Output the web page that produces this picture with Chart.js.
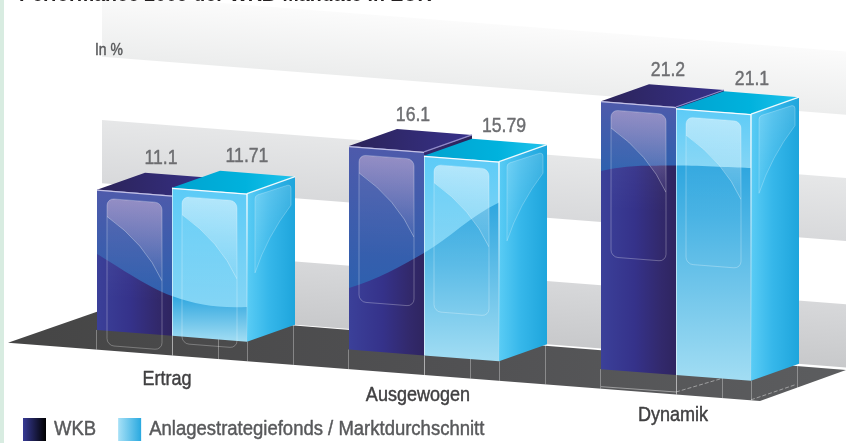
<!DOCTYPE html>
<html><head><meta charset="utf-8">
<style>
html,body{margin:0;padding:0;width:846px;height:443px;overflow:hidden;background:linear-gradient(90deg,#d8ece1 0,#d8ece1 4px,#fff 4px,#fff 100%);}
#wrap{position:relative;width:846px;height:443px;overflow:hidden;}
canvas{position:absolute;left:-3px;top:-15px;}
</style>
<script src="https://cdn.jsdelivr.net/npm/chart.js@4"></script>
</head><body><div id="wrap"><canvas id="c" width="849" height="466"></canvas></div>
<script>
const titleText = "Performance 2009 der WKB-Mandate in EUR";
const unitText = "In %";
const categories = ["Ertrag","Ausgewogen","Dynamik"];
const seriesNames = ["WKB","Anlagestrategiefonds / Marktdurchschnitt"];
const wkbValues = [11.1,16.1,21.2];
const marktValues = [11.71,15.79,21.1];

const SANS = '"Liberation Sans",sans-serif';
const SLOPE = 0.0777, DX = 48, DY = 17;
const LEG_PAD = 20;
// horizontal condensing per font size (the reference face is a condensed grotesque)
const CONDENSE = {"20px":0.925,"20.5px":0.88,"21px":0.84,"16px":0.87};

const canvasEl=document.getElementById("c");
const rawCtx=canvasEl.getContext("2d");
(function patch(ctx){
  const fill=ctx.fillText.bind(ctx),measure=ctx.measureText.bind(ctx),stroke=ctx.strokeText.bind(ctx);
  const kOf=()=>{const m=ctx.font.match(/([\d.]+px)/);return (m&&CONDENSE[m[1]])||1;};
  ctx.fillText=function(t,x,y,mw){
    const k=kOf();
    if(k===1){fill(t,x,y,mw);return;}
    ctx.save();
    const shift=seriesNames.includes(t)?-2:0;
    ctx.translate(x+shift,y);ctx.scale(k,1);
    fill(t,0,0);
    ctx.strokeStyle=ctx.fillStyle;ctx.lineWidth=0.45;ctx.lineJoin="round";
    stroke(t,0,0);
    ctx.restore();
  };
  ctx.measureText=function(t){const m=measure(t);return {width:m.width*kOf()};};
})(rawCtx);

function frame(chart){
  const a = chart.chartArea, x0 = a.left + 51, yz = chart.scales.y.getPixelForValue(0);
  return {a, x0, yz};
}
const WAVE = [[0,-76],[75,-34],[150,-23],[252,-42],[327,-77],[403,-128],[504,-159],[568,-164.5],[654,-162]];
function waveAt(f,x){
  const u = x - f.x0;
  for(let i=0;i<WAVE.length-1;i++){
    if(u<=WAVE[i+1][0]){const t=(u-WAVE[i][0])/(WAVE[i+1][0]-WAVE[i][0]);return f.yz+WAVE[i][1]+t*(WAVE[i+1][1]-WAVE[i][1]);}
  }
  return f.yz+WAVE[WAVE.length-1][1];
}
function wavePath(ctx,f){
  const P = WAVE.map(p=>[p[0]+f.x0,p[1]+f.yz]);
  ctx.beginPath();
  ctx.moveTo(P[0][0],P[0][1]);
  for(let i=0;i<P.length-1;i++){
    const p0=P[Math.max(0,i-1)],p1=P[i],p2=P[i+1],p3=P[Math.min(P.length-1,i+2)];
    ctx.bezierCurveTo(p1[0]+(p2[0]-p0[0])/6,p1[1]+(p2[1]-p0[1])/6,p2[0]-(p3[0]-p1[0])/6,p2[1]-(p3[1]-p1[1])/6,p2[0],p2[1]);
  }
}
function rr(ctx,x,y,w,h,r){ctx.beginPath();ctx.roundRect(x,y,w,h,r);}
function poly(ctx,pts){ctx.beginPath();pts.forEach((p,i)=>i?ctx.lineTo(p[0],p[1]):ctx.moveTo(p[0],p[1]));ctx.closePath();}
function grad(ctx,x1,y1,x2,y2,stops){const g=ctx.createLinearGradient(x1,y1,x2,y2);stops.forEach(s=>g.addColorStop(s[0],s[1]));return g;}

const BAND_COLORS = [["#d7d8da","#c8c9cb"],["#e6e7e8","#d8d9db"],["#fbfbfb","#eceded"]];
function drawBackdrop(chart){
  const ctx=chart.ctx,f=frame(chart),y=chart.scales.y,ticks=y.ticks,W=chart.width;
  const wall=(x,v)=>y.getPixelForValue(v)+(x-DX-f.x0)*SLOPE-DY;
  const xs=f.x0+5;
  let k=0;
  for(let i=0;i+1<ticks.length;i+=2,k++){
    const lo=ticks[i].value,hi=ticks[i+1].value;
    const yT=wall(xs,hi),h=wall(xs,lo)-yT,n=1+SLOPE*SLOPE;
    poly(ctx,[[xs,yT],[W,wall(W,hi)],[W,wall(W,lo)],[xs,wall(xs,lo)]]);
    ctx.fillStyle=grad(ctx,xs,yT,xs-SLOPE*h/n,yT+h/n,[[0,BAND_COLORS[k][0]],[1,BAND_COLORS[k][1]]]);
    ctx.fill();
  }
  // floor
  const A=[f.x0-89,f.yz+12.7],C=[f.x0+663,f.yz+71],D=[f.x0+749,f.yz+40],B=[f.x0+5,f.yz-20];
  poly(ctx,[A,B,D,C]);
  ctx.fillStyle=grad(ctx,A[0],0,D[0],0,[[0,"#454545"],[0.5,"#505052"],[1,"#5c5d5f"]]);
  ctx.fill();
  const front=x=>A[1]+(x-A[0])*0.0775, back=x=>B[1]+(x-B[0])*SLOPE;
  ctx.lineWidth=1;ctx.strokeStyle="rgba(255,255,255,.32)";
  chart.data.datasets.forEach((d,di)=>chart.getDatasetMeta(di).data.forEach(el=>{
    const L=el.x-el.width/2,R=el.x+el.width/2;
    [[L-(di?0:1),1],[R,1],[R+46,0]].forEach(q=>{
      const xx=Math.round(q[0])+.5;
      ctx.beginPath();
      ctx.moveTo(xx,q[1]?f.yz+(xx-f.x0)*SLOPE:back(xx));
      ctx.lineTo(xx,front(xx));ctx.stroke();
    });
  }));
  // reflected edges on the floor under the last group
  const last=chart.getDatasetMeta(1).data[2];
  const rR=last.x+last.width/2,rL=last.x-last.width/2;
  ctx.strokeStyle="rgba(255,255,255,.42)";ctx.setLineDash([4,2]);
  ctx.beginPath();ctx.moveTo(rL,f.yz+(rL-f.x0)*SLOPE+17);ctx.lineTo(rL+44,f.yz+(rL-f.x0)*SLOPE+4);ctx.stroke();
  ctx.beginPath();ctx.moveTo(rR,f.yz+(rR-f.x0)*SLOPE+19);ctx.lineTo(rR+44,f.yz+(rR-f.x0)*SLOPE+4);ctx.stroke();
  ctx.setLineDash([]);
  ctx.beginPath();ctx.moveTo(rL-75,f.yz+(rL-75-f.x0)*SLOPE+17.5);ctx.lineTo(rL,f.yz+(rL-f.x0)*SLOPE+17);ctx.stroke();
  // unit
  ctx.fillStyle="#58595b";ctx.font='16px '+SANS;ctx.textAlign="left";ctx.textBaseline="middle";
  ctx.fillText(unitText,f.a.left+49,f.a.top+37);
}
const STY=[
 {top:[[0,"#2b2358"],[1,"#37318a"]],side:[[0,"#33296e"],[1,"#2b2358"]],
  base:(x1,x2)=>[[0,"#3b4099"],[.45,"#35328a"],[.8,"#32296c"],[1,"#2f2560"]],horizontal:true,
  ovTop:"#4e5aab",ovBot:"#2e60ae",rectA:"rgba(205,180,215,.5)",rectB:"rgba(205,180,215,.03)",edge:"rgba(215,210,240,.85)",edge2:"#8f8ac8"},
 {top:[[0,"#00a3cf"],[.6,"#00b2dd"],[1,"#22c2ec"]],side:[[0,"#5accf5"],[.45,"#36b7ea"],[1,"#1ea5dc"]],
  base:null,horizontal:false,
  ovTop:"#5ccbf7",ovBot:"#84d5f5",rectA:"rgba(255,255,255,.48)",rectB:"rgba(255,255,255,.04)",edge:"rgba(255,255,255,.95)",edge2:"rgba(255,255,255,.9)"}
];
function drawPrism(ctx,f,el,di){
  const s=STY[di],L=el.x-el.width/2,R=el.x+el.width/2;
  const top=x=>el.y+(x-f.x0)*SLOPE, base=x=>f.yz+(x-f.x0)*SLOPE;
  // side
  const tL=top(L),tR=top(R),bL=base(L),bR=base(R);
  poly(ctx,[[R,tR],[R+DX,tR-DY],[R+DX,bR-DY],[R,bR]]);
  ctx.fillStyle=grad(ctx,R,0,R+DX,0,s.side);ctx.fill();
  // top
  poly(ctx,[[L,tL],[R,tR],[R+DX,tR-DY],[L+DX,tL-DY]]);
  ctx.fillStyle=grad(ctx,L,0,R+DX,0,s.top);ctx.fill();
  // side inner panel
  ctx.save();
  ctx.transform(1,-DY/DX,0,1,R,tR);
  ctx.beginPath();ctx.moveTo(8,8);ctx.quadraticCurveTo(8,5,11,5);ctx.lineTo(41,6);ctx.quadraticCurveTo(44,7,44,10);ctx.lineTo(44,27);
  ctx.quadraticCurveTo(20,50,8,82);ctx.closePath();
  if(di===1){
    ctx.fillStyle=grad(ctx,0,5,30,70,[[0,"rgba(255,255,255,.2)"],[1,"rgba(255,255,255,.03)"]]);ctx.fill();
    ctx.strokeStyle="rgba(255,255,255,.28)";ctx.lineWidth=.8;ctx.stroke();
  }
  ctx.restore();
  // front
  const frontPath=()=>poly(ctx,[[L,tL],[R,tR],[R,bR],[L,bL]]);
  ctx.save();frontPath();ctx.clip();
  const wL=waveAt(f,L),wR=waveAt(f,R),wMax=Math.max(wL,wR);
  if(s.horizontal){ctx.fillStyle=grad(ctx,L,0,R,0,s.base());}
  else{ctx.fillStyle=grad(ctx,0,Math.min(wL,wR),0,bR,[[0,"#2ea6df"],[1,"#a2ddf3"]]);}
  ctx.fillRect(L-1,tL-20,el.width+2,bR-tL+40);
  // gloss above the wave
  ctx.save();
  wavePath(ctx,f);
  const P1=WAVE[WAVE.length-1],P0=WAVE[0];
  ctx.lineTo(P1[0]+f.x0,-50);ctx.lineTo(P0[0]+f.x0,-50);ctx.closePath();ctx.clip();
  ctx.fillStyle=grad(ctx,0,tL,0,Math.max(wMax,tL+10),[[0,s.ovTop],[1,s.ovBot]]);
  ctx.fillRect(L-1,tL-20,el.width+2,bR-tL+40);
  ctx.restore();
  ctx.restore();
  // inner rounded panel (sheared with the face)
  ctx.save();
  ctx.transform(1,SLOPE,0,1,0,-f.x0*SLOPE);
  const rx=L+10,rw=55,ry=el.y+8,rh=147,cx2=L+65;
  ctx.save();
  rr(ctx,rx,ry,rw,rh,7);ctx.clip();
  ctx.fillStyle=grad(ctx,0,ry,0,ry+100,[[0,"rgba(255,255,255,.08)"],[1,"rgba(255,255,255,0)"]]);
  ctx.fillRect(rx,ry,rw,100);
  ctx.save();
  ctx.beginPath();ctx.moveTo(rx,ry+18);ctx.quadraticCurveTo(L+48,ry+42,cx2,ry+78);ctx.lineTo(cx2,ry);ctx.lineTo(rx,ry);ctx.closePath();
  ctx.fillStyle=grad(ctx,0,ry,0,ry+78,[[0,s.rectA],[1,s.rectB]]);ctx.fill();
  ctx.restore();
  ctx.beginPath();ctx.moveTo(rx,ry+18);ctx.quadraticCurveTo(L+48,ry+42,cx2,ry+78);
  ctx.strokeStyle="rgba(255,255,255,.42)";ctx.lineWidth=.8;ctx.stroke();
  ctx.restore();
  rr(ctx,rx,ry,rw,rh,7);ctx.strokeStyle="rgba(255,255,255,.3)";ctx.lineWidth=.9;ctx.stroke();
  ctx.restore();
  // edges
  ctx.lineWidth=1.2;
  ctx.strokeStyle=s.edge;ctx.beginPath();ctx.moveTo(L,tL+.5);ctx.lineTo(R,tR+.5);ctx.stroke();
  ctx.strokeStyle=s.edge2;ctx.beginPath();ctx.moveTo(R,tR);ctx.lineTo(R+DX,tR-DY);ctx.stroke();
  if(di===1){
    ctx.strokeStyle=grad(ctx,0,tR,0,bR,[[0,"rgba(255,255,255,.95)"],[.55,"rgba(255,255,255,.35)"],[1,"rgba(255,255,255,.05)"]]);
    ctx.lineWidth=1.4;ctx.beginPath();ctx.moveTo(R,tR);ctx.lineTo(R,bR);ctx.stroke();
    ctx.strokeStyle="rgba(255,255,255,.55)";ctx.lineWidth=1;ctx.beginPath();ctx.moveTo(L+.5,tL);ctx.lineTo(L+.5,bL);ctx.stroke();
  }
}
const VALUE_DX=[[0,0,3],[-2,3,-1]];
const VALUE_DY=[[-1,0,0],[-1,1,2]];
const scenePlugin={
  id:"scene",
  afterLayout(chart){ if(chart.titleBlock){chart.titleBlock.left=22;} },
  beforeDraw(chart){drawBackdrop(chart);},
  beforeDatasetsDraw(chart){
    const ctx=chart.ctx,f=frame(chart);
    for(let c=0;c<categories.length;c++){
      for(let d=0;d<2;d++){
        drawPrism(ctx,f,chart.getDatasetMeta(d).data[c],d);
      }
    }
    ctx.font='21px '+SANS;ctx.fillStyle="#6d6e71";ctx.textAlign="center";ctx.textBaseline="middle";
    for(let c=0;c<categories.length;c++){
      for(let d=0;d<2;d++){
        const el=chart.getDatasetMeta(d).data[c],L=el.x-el.width/2;
        const v=chart.data.datasets[d].data[c];
        ctx.fillText(String(v),L+(d?77:64)+VALUE_DX[d][c],el.y+(L-f.x0)*SLOPE-31+VALUE_DY[d][c]);
      }
    }
    return false;
  }
};
const LABEL_DX=[-5,-6,-3];
const LABEL_DY=[37,53,73];
new Chart(canvasEl,{
  type:"bar",
  data:{labels:categories,datasets:[
    {label:seriesNames[0],data:wkbValues,backgroundColor:"#35307f",barThickness:75},
    {label:seriesNames[1],data:marktValues,backgroundColor:"#4cb8e8",barThickness:75}
  ]},
  plugins:[scenePlugin],
  options:{
    responsive:false,animation:false,devicePixelRatio:1,events:[],
    layout:{padding:{left:6,right:44,top:0,bottom:0}},
    scales:{
      x:{
        grid:{display:false,drawTicks:false},border:{display:false},
        ticks:{color:"#414042",font:{family:SANS,size:20.5},padding:0,autoSkip:false,maxRotation:0},
        afterFit(s){s.height=88-LEG_PAD;},
        afterUpdate(s){
          const base=Chart.Scale.prototype._computeLabelItems;
          s._computeLabelItems=function(ca){
            const items=base.call(this,ca);
            items.forEach((it,i)=>{const t=it.options.translation;it.options.translation=[t[0]+LABEL_DX[i],t[1]+LABEL_DY[i]];});
            return items;
          };
          s._computeLabelArea=function(){return undefined;};
          s._labelItems=null;
        }
      },
      y:{
        min:0,max:25,
        ticks:{stepSize:5,display:false},grid:{display:false},border:{display:false},
        afterFit(s){s.width=43;}
      }
    },
    plugins:{
      tooltip:{enabled:false},
      title:{display:true,text:titleText,align:"start",color:"#231f20",
        font:{family:SANS,size:19.6,weight:"bold"},padding:{top:-1,bottom:6.5}},
      legend:{
        position:"bottom",align:"start",
        labels:{
          boxWidth:23,boxHeight:23,padding:LEG_PAD,color:"#414042",font:{family:SANS,size:20},
          generateLabels(chart){
            const ctx=chart.ctx;
            return seriesNames.map((t,i)=>({
              text:t,datasetIndex:i,lineWidth:0,strokeStyle:"transparent",
              fillStyle:i===0?grad(ctx,26,0,49,0,[[0,"#373a95"],[1,"#000"]]):grad(ctx,121,0,144,0,[[0,"#a8e1f7"],[1,"#29a9e0"]])
            }));
          }
        }
      }
    }
  }
});
</script></body></html>
